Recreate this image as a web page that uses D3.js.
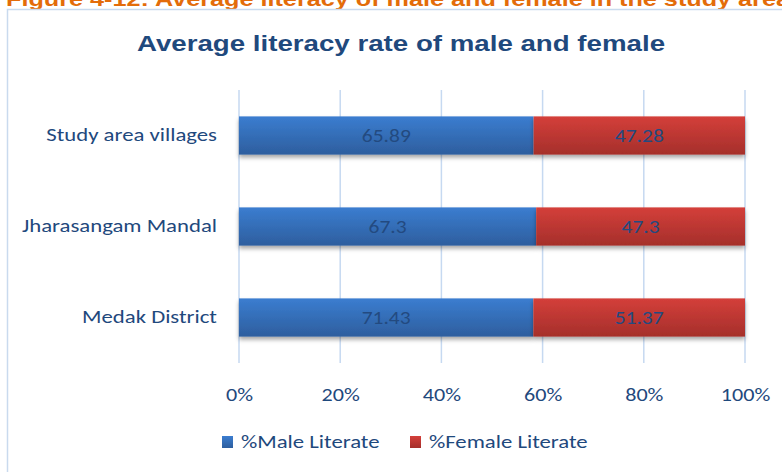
<!DOCTYPE html>
<html>
<head>
<meta charset="utf-8">
<script src="https://cdn.jsdelivr.net/npm/d3@7"></script>
<style>
	body { margin: 0; background: #fff; }
	svg { display: block; }
</style>
</head>
<body>
<div id="chart-area"></div>
<script>
// SVG Size
let width = 782,
	height = 472;

// chart values
let categories = ["Study area villages", "Jharasangam Mandal", "Medak District"];
let maleLiterate = [65.89, 67.3, 71.43];
let femaleLiterate = [47.28, 47.3, 51.37];
let seriesNames = ["%Male Literate", "%Female Literate"];
let tickValues = [0, 0.2, 0.4, 0.6, 0.8, 1];

// the reference picture is stretched sideways, so text is too
let sx = 1.23;

let rows = categories.map((c, i) => ({
	category: c,
	male: maleLiterate[i],
	female: femaleLiterate[i]
}));

let stacked = d3.stack()
	.keys(["male", "female"])
	.offset(d3.stackOffsetExpand)(rows);

let svg = d3.select("#chart-area").append("svg")
	.attr("width", width)
	.attr("height", height);

let defs = svg.append("defs");

function gradient(id, top, bottom) {
	let g = defs.append("linearGradient")
		.attr("id", id)
		.attr("x1", 0).attr("y1", 0)
		.attr("x2", 0).attr("y2", 1);
	g.append("stop").attr("offset", "0%").attr("stop-color", top);
	g.append("stop").attr("offset", "100%").attr("stop-color", bottom);
}
gradient("grad-male", "#3B7DD0", "#2D5E9E");
gradient("grad-female", "#D43F3A", "#A52F2B");

let shadow = defs.append("filter")
	.attr("id", "shadow")
	.attr("x", "-5%").attr("y", "-20%")
	.attr("width", "110%").attr("height", "160%");
shadow.append("feDropShadow")
	.attr("dx", 0).attr("dy", 3)
	.attr("stdDeviation", 2)
	.attr("flood-color", "#000")
	.attr("flood-opacity", 0.35);

function placed(x, y) {
	return "translate(" + x + "," + y + ") scale(" + sx + ",1)";
}

// figure caption, cut off at the top
svg.append("text")
	.attr("transform", placed(6, 5.5))
	.attr("font-family", "Liberation Sans, Arial, sans-serif")
	.attr("font-weight", "bold")
	.attr("font-size", 20.5)
	.attr("fill", "#E36C0A")
	.text("Figure 4-12: Average literacy of male and female in the study area");

// chart frame
svg.append("rect")
	.attr("x", 7.5)
	.attr("y", 9.5)
	.attr("width", 800)
	.attr("height", 480)
	.attr("fill", "none")
	.attr("stroke", "#C9DAEE")
	.attr("stroke-width", 1.5);

// title
svg.append("text")
	.attr("transform", placed(401, 51))
	.attr("text-anchor", "middle")
	.attr("font-family", "Liberation Sans, Arial, sans-serif")
	.attr("font-weight", "bold")
	.attr("font-size", 22.5)
	.attr("fill", "#1F497D")
	.text("Average literacy rate of male and female");

let XScale = d3.scaleLinear()
	.domain([0, 1])
	.range([239, 745]);

let YScale = d3.scaleBand()
	.domain(categories)
	.range([90, 363])
	.paddingInner(0.58)
	.paddingOuter(0.29);

let labelFont = "Carlito, Calibri, Lato, sans-serif";
let textColor = "#1F497D";

// gridlines
svg.append("g")
	.selectAll("line")
	.data(tickValues)
	.enter()
	.append("line")
	.attr("x1", d => XScale(d))
	.attr("x2", d => XScale(d))
	.attr("y1", 90)
	.attr("y2", 363)
	.attr("stroke", "#C6D9F1")
	.attr("stroke-width", 1.5);

// bars
let layers = svg.append("g")
	.selectAll("g")
	.data(stacked)
	.enter()
	.append("g")
	.attr("fill", d => d.key === "male" ? "url(#grad-male)" : "url(#grad-female)");

layers.selectAll("rect")
	.data(d => d)
	.enter()
	.append("rect")
	.attr("x", d => XScale(d[0]))
	.attr("y", d => YScale(d.data.category))
	.attr("width", d => XScale(d[1]) - XScale(d[0]))
	.attr("height", YScale.bandwidth())
	.attr("filter", "url(#shadow)");

// data labels
layers.selectAll("text")
	.data(d => d.map(p => ({ p: p, key: d.key })))
	.enter()
	.append("text")
	.attr("transform", d => placed(
		(XScale(d.p[0]) + XScale(d.p[1])) / 2,
		YScale(d.p.data.category) + YScale.bandwidth() / 2))
	.attr("dy", "0.35em")
	.attr("text-anchor", "middle")
	.attr("font-family", labelFont)
	.attr("font-size", 17.5)
	.attr("fill", "#234A80")
	.text(d => d.p.data[d.key]);

// y axis labels
let yAxis = d3.axisLeft(YScale).tickSize(0).tickPadding(22 / sx);
let yg = svg.append("g")
	.attr("class", "axis y-axis")
	.attr("transform", "translate(239,0)")
	.call(yAxis);
yg.select(".domain").remove();
yg.selectAll("text")
	.attr("transform", "scale(" + sx + ",1)")
	.attr("font-family", labelFont)
	.attr("font-size", 18.5)
	.attr("fill", textColor);

// x axis labels
let xAxis = d3.axisBottom(XScale)
	.tickValues(tickValues)
	.tickFormat(d3.format(".0%"))
	.tickSize(0)
	.tickPadding(0);
let xg = svg.append("g")
	.attr("class", "axis x-axis")
	.attr("transform", "translate(0,388)")
	.call(xAxis);
xg.select(".domain").remove();
xg.selectAll("text")
	.attr("transform", "scale(" + sx + ",1)")
	.attr("font-family", labelFont)
	.attr("font-size", 18)
	.attr("fill", textColor);

// legend
let legendX = [222, 410];
let legend = svg.append("g")
	.selectAll("g")
	.data(seriesNames)
	.enter()
	.append("g")
	.attr("transform", (d, i) => "translate(" + legendX[i] + ",436)");
legend.append("rect")
	.attr("width", 11)
	.attr("height", 12)
	.attr("fill", (d, i) => i === 0 ? "url(#grad-male)" : "url(#grad-female)");
legend.append("text")
	.attr("transform", placed(19, 6))
	.attr("dy", "0.35em")
	.attr("font-family", labelFont)
	.attr("font-size", 18.5)
	.attr("fill", textColor)
	.text(d => d);
</script>
</body>
</html>
